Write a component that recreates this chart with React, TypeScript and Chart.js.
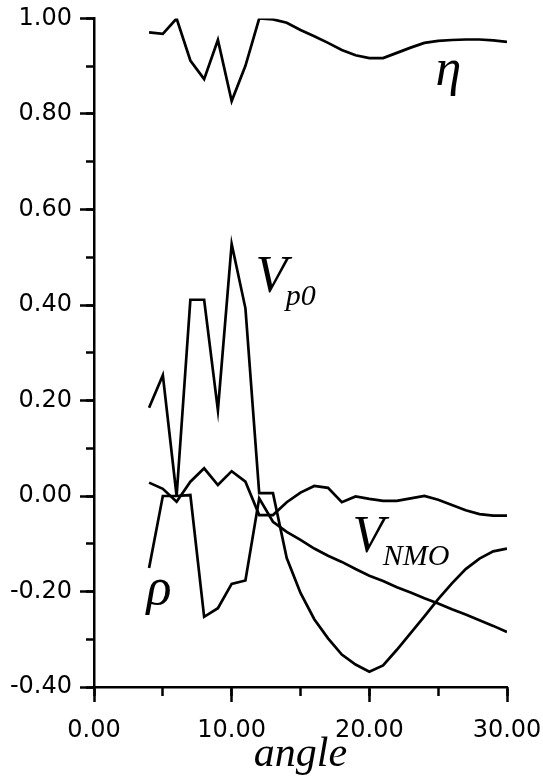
import React, { useEffect, useRef } from 'react';
import { Chart, registerables } from 'chart.js';

Chart.register(...registerables);

// ---- data ----
const angles = [4, 5, 6, 7, 8, 9, 10, 11, 12, 13, 14, 15, 16, 17, 18, 19, 20, 21, 22, 23, 24, 25, 26, 27, 28, 29, 30];
const eta = [0.971, 0.968, 1.0, 0.912, 0.873, 0.955, 0.827, 0.901, 1.0, 0.998, 0.991, 0.976, 0.963, 0.949, 0.934, 0.923, 0.917, 0.917, 0.928, 0.939, 0.949, 0.953, 0.955, 0.956, 0.956, 0.954, 0.951];
const vp0 = [0.185, 0.253, 0.0, 0.411, 0.411, 0.18, 0.528, 0.393, 0.006, 0.006, -0.13, -0.203, -0.258, -0.298, -0.332, -0.353, -0.368, -0.355, -0.322, -0.287, -0.252, -0.216, -0.183, -0.153, -0.131, -0.116, -0.11];
const vnmo = [0.028, 0.015, -0.012, 0.03, 0.058, 0.023, 0.052, 0.03, -0.04, -0.04, -0.013, 0.007, 0.021, 0.017, -0.013, -0.001, -0.006, -0.01, -0.01, -0.005, 0.0, -0.008, -0.019, -0.03, -0.038, -0.041, -0.041];
const rho = [-0.151, 0.0, 0.0, 0.002, -0.253, -0.235, -0.184, -0.177, -0.005, -0.054, -0.075, -0.092, -0.11, -0.125, -0.138, -0.153, -0.167, -0.178, -0.191, -0.202, -0.214, -0.225, -0.237, -0.248, -0.26, -0.272, -0.285];

const xRange = [0, 30];
const yRange = [-0.4, 1.0];
const xMajorStep = 10;
const xMinorStep = 5;
const yMajorStep = 0.2;
const yMinorStep = 0.1;
const xTitle = 'angle';

// curve name labels: main text, subscript, anchor angle, anchor value
const labelTexts = ['η', 'V', 'V', 'ρ'];
const labelSubs = ['', 'p0', 'NMO', ''];
const labelAngles = [24.8, 11.73, 18.77, 3.81];
const labelValues = [0.86, 0.427, -0.117, -0.226];

const SERIF = '"Liberation Serif", "Times New Roman", serif';
const SANS = '"DejaVu Sans", Verdana, sans-serif';

const fmt = (v: any) => {
  const n = Number(v);
  return (Math.abs(n) < 1e-9 ? 0 : n).toFixed(2);
};

const curveLabelPlugin = {
  id: 'curveLabels',
  afterDatasetsDraw(chart: any) {
    const ctx = chart.ctx;
    const xs = chart.scales.x;
    const ys = chart.scales.y;
    ctx.save();
    ctx.fillStyle = '#000';
    ctx.textBaseline = 'alphabetic';
    ctx.textAlign = 'left';
    for (let i = 0; i < labelTexts.length; i++) {
      const px = xs.getPixelForValue(labelAngles[i]);
      const py = ys.getPixelForValue(labelValues[i]);
      ctx.font = `italic 52px ${SERIF}`;
      ctx.fillText(labelTexts[i], px, py);
      const w = ctx.measureText(labelTexts[i]).width;
      if (labelSubs[i]) {
        ctx.font = `italic 30px ${SERIF}`;
        ctx.fillText(labelSubs[i], px + w - 1.5, py + 13);
      }
    }
    ctx.restore();
  },
};

function toPoints(vals: number[]) {
  return angles.map((a, i) => ({ x: a, y: vals[i] }));
}

const noPadX = (h: number) => (s: any) => {
  s.height = h;
  s.paddingLeft = 0;
  s.paddingRight = 0;
};
const noPadY = (w: number) => (s: any) => {
  s.width = w;
  s.paddingTop = 0;
  s.paddingBottom = 0;
};

export default function App() {
  const ref = useRef<HTMLCanvasElement | null>(null);

  useEffect(() => {
    if (!ref.current) return;
    const lineStyle = {
      borderColor: '#000',
      borderWidth: 2.7,
      pointRadius: 0,
      tension: 0,
      fill: false,
      xAxisID: 'x',
      yAxisID: 'y',
    };
    const chart = new Chart(ref.current, {
      type: 'line',
      data: {
        datasets: [
          { label: 'eta', data: toPoints(eta), ...lineStyle },
          { label: 'Vp0', data: toPoints(vp0), ...lineStyle },
          { label: 'VNMO', data: toPoints(vnmo), ...lineStyle },
          { label: 'rho', data: toPoints(rho), ...lineStyle },
        ],
      },
      options: {
        animation: false,
        responsive: false,
        devicePixelRatio: 1,
        layout: { padding: { top: 18.5, right: 36, bottom: 0, left: 0 } },
        plugins: {
          legend: { display: false },
          tooltip: { enabled: false },
        },
        scales: {
          x: {
            type: 'linear',
            position: 'bottom',
            weight: 1,
            min: xRange[0],
            max: xRange[1],
            ticks: {
              stepSize: xMajorStep,
              color: '#000',
              font: { family: SANS, size: 24 },
              padding: 14,
              maxRotation: 0,
              autoSkip: false,
              callback: fmt,
            },
            grid: { drawOnChartArea: false, tickLength: 15, tickWidth: 2.5, tickColor: '#000' },
            border: { display: true, color: '#000', width: 2.5 },
            title: {
              display: true,
              text: xTitle,
              color: '#000',
              font: { family: SERIF, style: 'italic', size: 42 },
              padding: { top: 0, bottom: 0.5 },
            },
            afterFit: noPadX(94),
          },
          xMinor: {
            type: 'linear',
            position: 'bottom',
            weight: 0,
            min: xRange[0],
            max: xRange[1],
            ticks: { stepSize: xMinorStep, display: false },
            grid: { drawOnChartArea: false, tickLength: 9, tickWidth: 2.5, tickColor: '#000' },
            border: { display: false },
            afterFit: noPadX(0),
          },
          y: {
            type: 'linear',
            position: 'left',
            weight: 1,
            min: yRange[0],
            max: yRange[1],
            ticks: {
              stepSize: yMajorStep,
              color: '#000',
              font: { family: SANS, size: 24 },
              padding: 8,
              callback: fmt,
            },
            grid: { drawOnChartArea: false, tickLength: 14, tickWidth: 2.5, tickColor: '#000' },
            border: { display: true, color: '#000', width: 2.5 },
            afterFit: noPadY(94),
          },
          yMinor: {
            type: 'linear',
            position: 'left',
            weight: 0,
            min: yRange[0],
            max: yRange[1],
            ticks: { stepSize: yMinorStep, display: false },
            grid: { drawOnChartArea: false, tickLength: 8, tickWidth: 2.5, tickColor: '#000' },
            border: { display: false },
            afterFit: noPadY(0),
          },
        },
      } as any,
      plugins: [curveLabelPlugin],
    });
    return () => chart.destroy();
  }, []);

  return (
    <div style={{ position: 'absolute', left: 0, top: 0, width: 543, height: 781, background: '#fff' }}>
      <canvas ref={ref} width={543} height={781} style={{ display: 'block' }} />
    </div>
  );
}
